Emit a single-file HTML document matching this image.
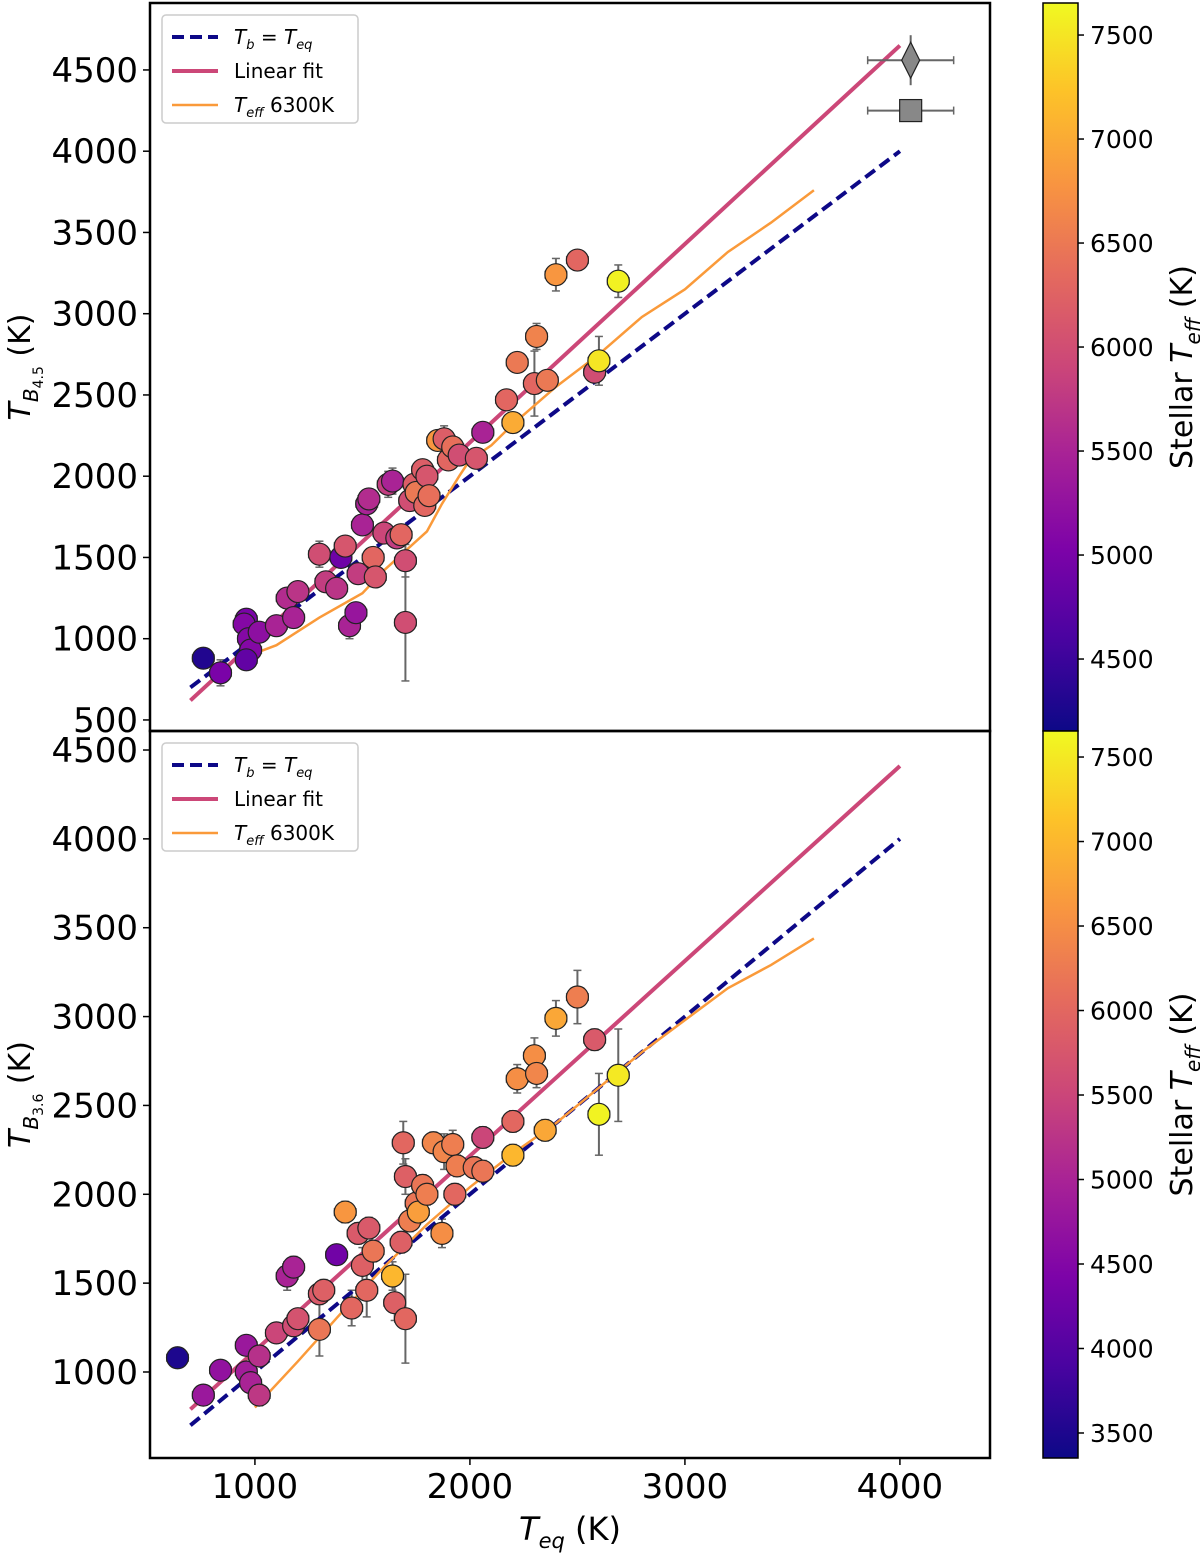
<!DOCTYPE html>
<html><head><meta charset="utf-8"><style>
body{margin:0;background:#fff;font-family:"Liberation Sans","DejaVu Sans",sans-serif}
svg text{font-family:"DejaVu Sans","Liberation Sans",sans-serif}
</style></head><body>
<svg id="c" width="1200" height="1555" xmlns="http://www.w3.org/2000/svg">
<defs>
<linearGradient id="plasma" x1="0" y1="1" x2="0" y2="0">
<stop offset="0" stop-color="#0d0887"/><stop offset="0.13" stop-color="#4b03a1"/><stop offset="0.25" stop-color="#7d03a8"/><stop offset="0.38" stop-color="#a82296"/><stop offset="0.5" stop-color="#cb4679"/><stop offset="0.63" stop-color="#e56b5d"/><stop offset="0.75" stop-color="#f89441"/><stop offset="0.88" stop-color="#fdc328"/><stop offset="1" stop-color="#f0f921"/>
</linearGradient>
</defs>
</svg>
<script>
// data: [Teq, Tb, Teff, yerr]
const topPoints=[[760,880,4300,40],[840,790,5000,80],[960,1120,5000,40],[950,1090,5100,40],[970,1000,5100,40],[980,930,5100,40],[960,870,4800,40],[1020,1040,5200,40],[1100,1080,5500,40],[1150,1250,5600,60],[1180,1130,5500,40],[1200,1290,5700,40],[1300,1520,6000,80],[1330,1350,5800,60],[1380,1310,5700,60],[1400,1500,4900,60],[1420,1570,6100,60],[1440,1080,5500,80],[1470,1160,5300,60],[1480,1400,5800,60],[1500,1700,5500,60],[1520,1830,5500,60],[1530,1860,5600,60],[1550,1500,6300,60],[1560,1380,6100,60],[1600,1650,5900,60],[1620,1950,5800,80],[1640,1970,5500,80],[1660,1620,5800,60],[1680,1640,6300,60],[1700,1480,6000,100],[1700,1100,6000,360],[1720,1850,6000,60],[1740,1950,6200,60],[1750,1900,6500,60],[1780,2040,6200,60],[1790,1820,6300,60],[1800,2000,6100,60],[1810,1880,6400,60],[1850,2220,6800,60],[1880,2230,6200,80],[1900,2100,6300,60],[1920,2180,6400,60],[1950,2130,6000,60],[2030,2110,6100,60],[2060,2270,5500,60],[2170,2470,6300,60],[2200,2330,7000,60],[2220,2700,6500,60],[2300,2570,6300,200],[2310,2860,6600,80],[2360,2590,6500,60],[2400,3240,6800,100],[2500,3330,6300,40],[2580,2640,6000,60],[2600,2710,7500,150],[2690,3200,7600,100]];
const botPoints=[[640,1080,3500,30],[760,870,4800,40],[840,1010,4700,40],[960,1150,4800,40],[960,1000,4900,40],[980,940,5000,40],[1020,870,5300,60],[1020,1090,5200,40],[1100,1220,5500,40],[1150,1540,5000,80],[1180,1590,5000,60],[1180,1260,5600,40],[1200,1300,5700,40],[1300,1240,6200,150],[1300,1440,5800,60],[1320,1460,5900,60],[1380,1660,4300,40],[1420,1900,6600,60],[1450,1360,6000,100],[1480,1780,5800,60],[1500,1600,5900,100],[1520,1460,6000,150],[1530,1810,5800,60],[1550,1680,6200,60],[1640,1540,7000,80],[1650,1390,5900,100],[1680,1730,5900,60],[1690,2290,6000,120],[1700,1300,6000,250],[1700,2100,5900,100],[1720,1850,6300,60],[1750,1950,6200,60],[1760,1900,6700,60],[1780,2050,6200,60],[1800,2000,6300,60],[1830,2290,6400,60],[1870,1780,6500,80],[1880,2240,6400,100],[1920,2280,6300,80],[1930,2000,6000,60],[1940,2160,6300,60],[2020,2150,6200,60],[2060,2320,5500,60],[2060,2130,6200,60],[2200,2410,6000,60],[2200,2220,7000,60],[2220,2650,6500,80],[2300,2780,6500,100],[2310,2680,6400,80],[2350,2360,6800,60],[2400,2990,6800,100],[2500,3110,6300,150],[2580,2870,5800,60],[2600,2450,7600,230],[2690,2670,7500,260]];
const topFit=[[700,620],[4000,4650]];
const botFit=[[700,790],[4000,4410]];
const eqLine=[[700,700],[4000,4000]];
const topModel=[[1000,910],[1100,960],[1300,1130],[1500,1280],[1600,1420],[1700,1540],[1800,1660],[1870,1830],[1950,2000],[2000,2100],[2100,2190],[2200,2320],[2400,2550],[2600,2750],[2800,2980],[3000,3150],[3200,3380],[3400,3560],[3600,3760]];
const botModel=[[1000,800],[1200,1060],[1400,1330],[1600,1590],[1800,1830],[2000,2040],[2200,2230],[2400,2400],[2600,2600],[2800,2800],[3000,2980],[3200,3160],[3400,3290],[3600,3440]];
const specials=[[4050,4560,'diamond'],[4050,4250,'square']];
const xTicks=[1000,2000,3000,4000];
const topYTicks=[500,1000,1500,2000,2500,3000,3500,4000,4500];
const botYTicks=[1000,1500,2000,2500,3000,3500,4000,4500];
const topCTicks=[4500,5000,5500,6000,6500,7000,7500];
const botCTicks=[3500,4000,4500,5000,5500,6000,6500,7000,7500];

const svg=document.getElementById('c');const NS='http://www.w3.org/2000/svg';
function mk(t,a,p){const e=document.createElementNS(NS,t);for(const k in a)e.setAttribute(k,a[k]);(p||svg).appendChild(e);return e;}
const stops=[[0,[13,8,135]],[0.13,[75,3,161]],[0.25,[125,3,168]],[0.38,[168,34,150]],[0.5,[203,70,121]],[0.63,[229,107,93]],[0.75,[248,148,65]],[0.88,[253,195,40]],[1,[240,249,33]]];
function plasma(t){t=Math.max(0,Math.min(1,t));for(let i=1;i<stops.length;i++){if(t<=stops[i][0]){const a=stops[i-1],b=stops[i],f=(t-a[0])/(b[0]-a[0]);return 'rgb('+a[1].map((v,j)=>Math.round(v+(b[1][j]-v)*f)).join(',')+')';}}return 'rgb(240,249,33)';}
const X0=150,X1=990,xMin=512,xMax=4419;
const xs=v=>X0+(v-xMin)/(xMax-xMin)*(X1-X0);
function panel(py0,py1,yMin,yMax,pts,fit,model,yTicks,cMin,cMax,cTicks,label,sub,isTop){
  const ys=v=>py1-(v-yMin)/(yMax-yMin)*(py1-py0);
  const g=mk('g',{});
  
  
  const clip='clip'+py0;const cp=mk('clipPath',{id:clip},g);mk('rect',{x:X0,y:py0,width:X1-X0,height:py1-py0},cp);
  const pl=mk('g',{'clip-path':'url(#'+clip+')'},g);
  const line=(arr,attrs,name)=>{const l=mk('polyline',Object.assign({points:arr.map(p=>xs(p[0])+','+ys(p[1])).join(' '),fill:'none'},attrs),pl);};
  pts.forEach(p=>{const x=xs(p[0]),y=ys(p[1]),dx=xs(p[0]+50)-x;
    mk('line',{x1:x-dx,x2:x+dx,y1:y,y2:y,stroke:'#666','stroke-width':2},pl);
    mk('line',{x1:x,x2:x,y1:ys(p[1]-p[3]),y2:ys(p[1]+p[3]),stroke:'#666','stroke-width':2},pl);
    [x-dx,x+dx].forEach(c=>mk('line',{x1:c,x2:c,y1:y-4,y2:y+4,stroke:'#666','stroke-width':1.5},pl));
    [ys(p[1]-p[3]),ys(p[1]+p[3])].forEach(c=>mk('line',{x1:x-4,x2:x+4,y1:c,y2:c,stroke:'#666','stroke-width':1.5},pl));
  });
  line(fit,{stroke:'#cc4778','stroke-width':4},'linear-fit-line');
  line(eqLine,{stroke:'#0d0887','stroke-width':4,'stroke-dasharray':'12,6'},'equality-line');
  line(model,{stroke:'#fa9a3a','stroke-width':2.5},'teff-6300k-model-line');
  pts.forEach(p=>{const c=mk('circle',{cx:xs(p[0]),cy:ys(p[1]),r:11,fill:plasma((p[2]-cMin)/(cMax-cMin)),stroke:'#222','stroke-width':1.2},pl);
    
    });
  if(isTop){specials.forEach(s=>{const x=xs(s[0]),y=ys(s[1]),dx=xs(s[0]+200)-x;
    mk('line',{x1:x-dx,x2:x+dx,y1:y,y2:y,stroke:'#666','stroke-width':2},pl);
    [x-dx,x+dx].forEach(c=>mk('line',{x1:c,x2:c,y1:y-4,y2:y+4,stroke:'#666','stroke-width':1.5},pl));
    let e;
    if(s[2]=='diamond'){mk('line',{x1:x,x2:x,y1:y-25,y2:y+25,stroke:'#666','stroke-width':2},pl);e=mk('polygon',{points:`${x},${y-18} ${x+9},${y} ${x},${y+18} ${x-9},${y}`,fill:'#888',stroke:'#222','stroke-width':1.2},pl);}
    else e=mk('rect',{x:x-11,y:y-11,width:22,height:22,fill:'#888',stroke:'#222','stroke-width':1.2},pl);
    
    });}
  mk('rect',{x:X0,y:py0,width:X1-X0,height:py1-py0,fill:'none',stroke:'#000','stroke-width':2.5},g);
  yTicks.forEach(v=>{const y=ys(v);mk('line',{x1:X0-7,x2:X0,y1:y,y2:y,stroke:'#000','stroke-width':1.5},g);
    const t=mk('text',{x:X0-12,y:y+12,'text-anchor':'end','font-size':34},g);t.textContent=v;
    });
  const yl=mk('text',{transform:`translate(30,${(py0+py1)/2}) rotate(-90)`,'text-anchor':'middle','font-size':30},g);
  yl.innerHTML=`<tspan font-style="italic">T</tspan><tspan font-style="italic" font-size="20" dy="8">B</tspan><tspan font-size="14" dy="5">${sub}</tspan><tspan dy="-13"> (K)</tspan>`;
  
  const lg=mk('g',{},g);
  mk('rect',{x:162,y:py0+12,width:196,height:108,rx:4,fill:'#fff',stroke:'#ccc','stroke-width':1.5},lg);
  const items=[['#0d0887',4,'12,6','<tspan font-style="italic">T</tspan><tspan font-size="13" font-style="italic" dy="5">b</tspan><tspan dy="-5"> = </tspan><tspan font-style="italic">T</tspan><tspan font-size="13" font-style="italic" dy="5">eq</tspan>'],['#cc4778',4,'','Linear fit'],['#fa9a3a',2.5,'','<tspan font-style="italic">T</tspan><tspan font-size="13" font-style="italic" dy="5">eff</tspan><tspan dy="-5"> 6300K</tspan>']];
  items.forEach((it,i)=>{const y=py0+34+i*34;mk('line',{x1:172,x2:218,y1:y,y2:y,stroke:it[0],'stroke-width':it[1],'stroke-dasharray':it[2]||'none'},lg);
    const t=mk('text',{x:234,y:y+7,'font-size':20},lg);t.innerHTML=it[3];});
  const CX=1043,CW=35;const cb=mk('g',{},g);
  mk('rect',{x:CX,y:py0,width:CW,height:py1-py0,fill:'url(#plasma)',stroke:'#000','stroke-width':1.5},cb);
  const cs=v=>py1-(v-cMin)/(cMax-cMin)*(py1-py0);
  cTicks.forEach(v=>{const y=cs(v);mk('line',{x1:CX+CW,x2:CX+CW+6,y1:y,y2:y,stroke:'#000','stroke-width':1.5},cb);
    const t=mk('text',{x:CX+CW+12,y:y+9,'font-size':25},cb);t.textContent=v;});
  const ct=mk('text',{transform:`translate(1192,${(py0+py1)/2}) rotate(-90)`,'text-anchor':'middle','font-size':30},cb);
  ct.innerHTML='Stellar <tspan font-style="italic">T</tspan><tspan font-style="italic" font-size="20" dy="8">eff</tspan><tspan dy="-8"> (K)</tspan>';
  
}
panel(3,731,432,4912,topPoints,topFit,topModel,topYTicks,4154,7654,topCTicks,'top','4.5',true);
panel(731,1458,516,4607,botPoints,botFit,botModel,botYTicks,3352,7654,botCTicks,'bot','3.6',false);
xTicks.forEach(v=>{const x=xs(v);mk('line',{x1:x,x2:x,y1:1458,y2:1465,stroke:'#000','stroke-width':1.5});
  const t=mk('text',{x:x,y:1498,'text-anchor':'middle','font-size':34});t.textContent=v;
  });
const xl=mk('text',{x:570,y:1540,'text-anchor':'middle','font-size':32});
xl.innerHTML='<tspan font-style="italic">T</tspan><tspan font-style="italic" font-size="21" dy="8">eq</tspan><tspan dy="-8"> (K)</tspan>';

</script>
</body></html>
